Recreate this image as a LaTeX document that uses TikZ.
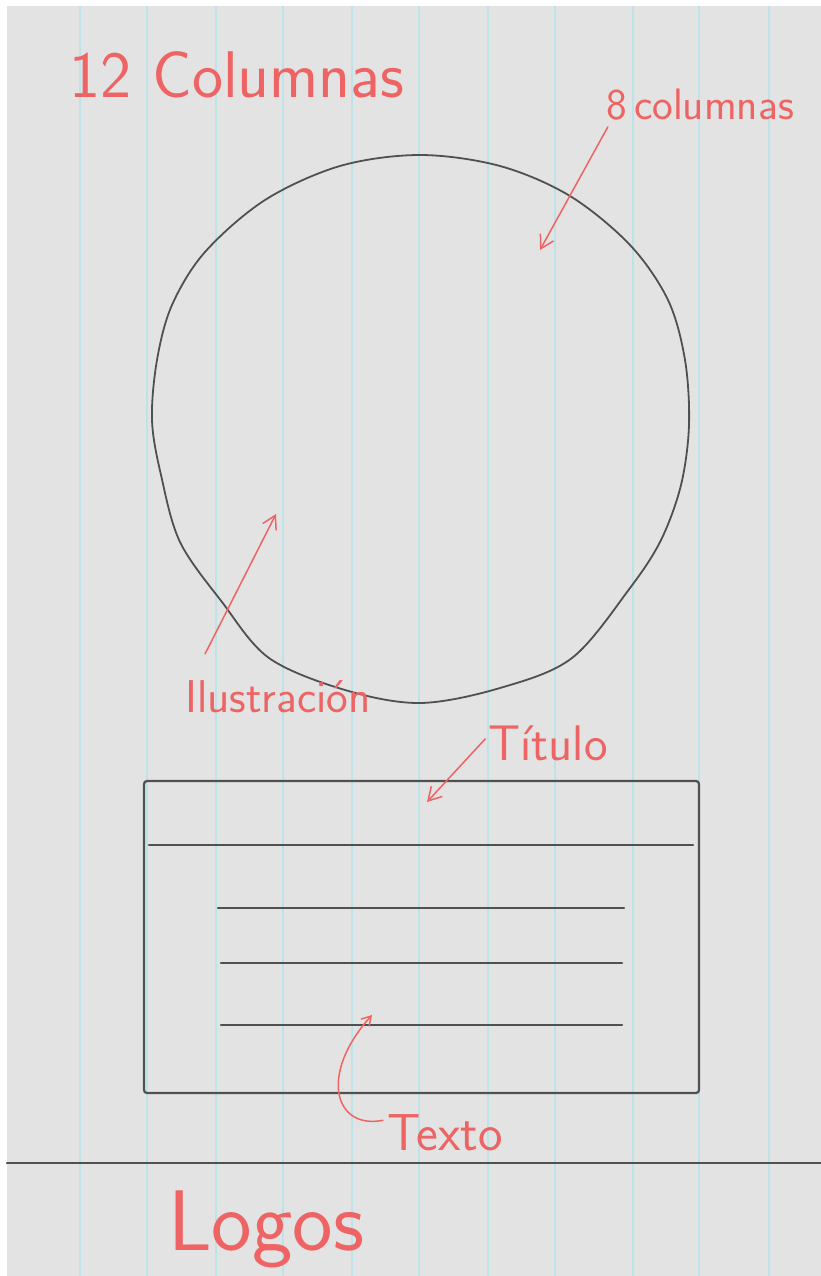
\documentclass[tikz,border=0pt]{standalone}
\usepackage{xcolor}
\definecolor{fondo}{RGB}{227,227,227}
\definecolor{guia}{RGB}{188,228,232}
\definecolor{trazo}{RGB}{80,80,80}
\definecolor{rojo}{RGB}{238,100,100}
\usepackage{tikz}
\usetikzlibrary{arrows.meta,calc,positioning}
\tikzset{
  nota/.style={text=rojo,inner sep=0pt,anchor=base,font=\sffamily\fontsize{#1}{#1}\selectfont},
  flecha/.style={rojo,line width=1.5pt,line cap=round,-{Straight Barb[length=13pt,width=15pt]}},
  linea/.style={trazo,line width=2.2pt,line cap=round}
}

\begin{document}
\begin{tikzpicture}[x=1pt,y=-1pt]
    \useasboundingbox (0,0) rectangle (821,1276);
    \fill[fondo] (7,6) rectangle (821,1276);
    \foreach \x in {80,147,216,283,352,419,488,555,633,699,769}{\draw[guia,line width=1.8pt] (\x,6)--(\x,1276);}
    \draw[trazo,line width=1.8pt] plot[smooth cycle,tension=0.55] coordinates{
      (420,155) (500,166) (570,196) (630,245) (668,300) (685,360) (689,425) (681,485)
      (661,540) (630,588) (572,658) (500,688) (420,703) (345,690) (269,658) (222,602)
      (180,542) (161,475) (152,420) (157,360) (172,305) (205,252) (265,200) (340,166)};
    \draw[linea,rounded corners=3pt] (144,781) rectangle (699,1093);
    \draw[linea] (149,845)--(693,845);
    \draw[linea] (218,908)--(624,908);
    \draw[linea] (221,963)--(622,963);
    \draw[linea] (221,1025)--(622,1025);
    \draw[linea] (7,1163)--(821,1163);
    \node[nota=66] (doce) at (237,98) {12 Columnas};
    \node[nota=44] (ocho) at (700,120) {8\,columnas};
    \node[nota=46] (ilus) at (278,712) {Ilustración};
    \node[nota=50] (titulo) at (548,760) {Título};
    \node[nota=52] (texto) at (445,1150) {Texto};
    \node[nota=86] (logos) at (266,1250) {Logos};
    \coordinate (circulo) at (540,250);
    \coordinate (imagen) at (276,514);
    \coordinate (cabecera) at (427,802);
    \coordinate (parrafo) at (372,1015);
    \draw[flecha] ([xshift=2pt,yshift=-6pt]ocho.south west) -- (circulo);
    \draw[flecha] ([xshift=20pt,yshift=26pt]ilus.north west) -- (imagen);
    \draw[flecha] ([xshift=-3pt,yshift=4pt]titulo.west) -- (cabecera);
    \draw[flecha,-{Straight Barb[length=9pt,width=11pt]}] ([xshift=-4pt,yshift=12pt]texto.west) .. controls (335,1130) and (318,1075) .. (parrafo);
  \end{tikzpicture}
\end{document}
